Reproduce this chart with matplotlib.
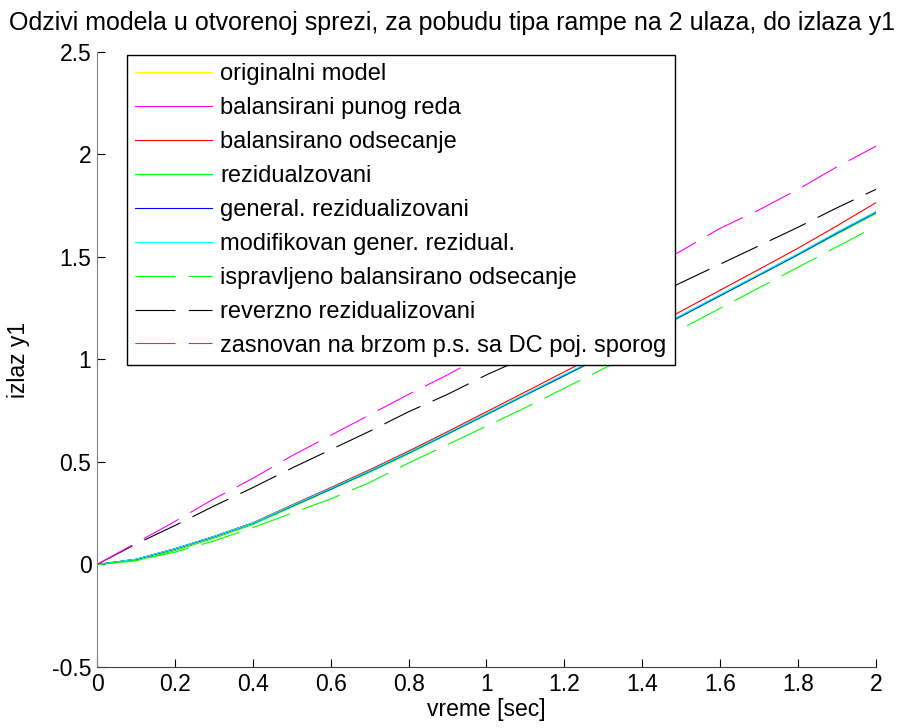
import numpy as np
import matplotlib
matplotlib.use("Agg")
import matplotlib.pyplot as plt

# time axis and responses
t = [0.0, 0.1, 0.2, 0.3, 0.4, 0.5, 0.6, 0.7, 0.8, 0.9, 1.0,
     1.1, 1.2, 1.3, 1.4, 1.5, 1.6, 1.7, 1.8, 1.9, 2.0]

y_original = [0.0, 0.025, 0.075, 0.135, 0.20, 0.285, 0.37, 0.455, 0.545, 0.64, 0.735,
              0.83, 0.925, 1.02, 1.115, 1.215, 1.315, 1.415, 1.515, 1.62, 1.72]
y_bal_full = [0.0, 0.025, 0.075, 0.135, 0.20, 0.285, 0.37, 0.455, 0.545, 0.64, 0.735,
              0.83, 0.925, 1.02, 1.115, 1.215, 1.315, 1.415, 1.515, 1.62, 1.72]
y_bal_trunc = [0.0, 0.025, 0.076, 0.137, 0.203, 0.29, 0.375, 0.462, 0.553, 0.648, 0.745,
               0.842, 0.94, 1.037, 1.135, 1.236, 1.338, 1.44, 1.543, 1.652, 1.765]
y_resid = [0.0, 0.018, 0.068, 0.128, 0.195, 0.28, 0.365, 0.45, 0.54, 0.635, 0.73,
           0.825, 0.92, 1.015, 1.11, 1.21, 1.31, 1.41, 1.51, 1.612, 1.712]
y_gen_resid = [0.0, 0.025, 0.077, 0.136, 0.202, 0.285, 0.368, 0.455, 0.545, 0.638, 0.733,
               0.828, 0.922, 1.018, 1.112, 1.212, 1.312, 1.412, 1.512, 1.617, 1.718]
y_mod_gen = [0.0, 0.026, 0.077, 0.137, 0.202, 0.287, 0.371, 0.457, 0.547, 0.641, 0.736,
             0.831, 0.926, 1.021, 1.116, 1.216, 1.316, 1.416, 1.516, 1.621, 1.721]
y_corr_bal = [0.0, 0.02, 0.06, 0.115, 0.18, 0.25, 0.32, 0.40, 0.495, 0.585, 0.675,
              0.765, 0.86, 0.955, 1.05, 1.15, 1.25, 1.35, 1.45, 1.55, 1.65]
y_rev_resid = [0.0, 0.10, 0.19, 0.285, 0.375, 0.47, 0.56, 0.65, 0.745, 0.83, 0.925,
               1.01, 1.10, 1.19, 1.285, 1.375, 1.465, 1.555, 1.645, 1.74, 1.83]
y_fast_dc = [0.0, 0.105, 0.21, 0.32, 0.42, 0.53, 0.63, 0.73, 0.83, 0.925, 1.03,
             1.13, 1.23, 1.33, 1.43, 1.53, 1.64, 1.73, 1.83, 1.94, 2.04]

labels = ["originalni model", "balansirani punog reda", "balansirano odsecanje",
          "rezidualzovani", "general. rezidualizovani", "modifikovan gener. rezidual.",
          "ispravljeno balansirano odsecanje", "reverzno rezidualizovani",
          "zasnovan na brzom p.s. sa DC poj. sporog"]

plt.rcParams["font.family"] = ["Liberation Sans", "DejaVu Sans"]

fig = plt.figure(figsize=(9, 7.28), dpi=100)
ax = fig.add_axes([0.1078, 0.0838, 0.8655, 0.8448])

lw = 0.8
dash = (36, 12)
ax.plot(t, y_original, color="#ffff00", lw=lw, label=labels[0])
ax.plot(t, y_bal_full, color="#ff00ff", lw=lw, label=labels[1])
ax.plot(t, y_bal_trunc, color="#ff0000", lw=lw, label=labels[2])
ax.plot(t, y_resid, color="#00ff00", lw=lw, label=labels[3])
ax.plot(t, y_gen_resid, color="#0000ff", lw=lw, label=labels[4])
ax.plot(t, y_mod_gen, color="#00ffff", lw=lw, label=labels[5])
ax.plot(t, y_corr_bal, color="#00ff00", lw=lw, dashes=dash, label=labels[6])
ax.plot(t, y_rev_resid, color="#000000", lw=lw, dashes=dash, label=labels[7])
ax.plot(t, y_fast_dc, color="#ff00ff", lw=lw, dashes=dash, label=labels[8])

ax.set_xlim(0, 2)
ax.set_ylim(-0.5, 2.5)
ax.set_xticks(np.arange(0, 2.01, 0.2))
ax.set_xticklabels(["0", "0.2", "0.4", "0.6", "0.8", "1", "1.2", "1.4", "1.6", "1.8", "2"])
ax.set_yticks([-0.5, 0, 0.5, 1, 1.5, 2, 2.5])
ax.set_yticklabels(["-0.5", "0", "0.5", "1", "1.5", "2", "2.5"])

for s in ["top", "right"]:
    ax.spines[s].set_visible(False)
ax.spines["left"].set_color("#808080")
ax.spines["bottom"].set_color("#404040")
ax.tick_params(direction="in", length=6, width=0.8, color="black", pad=4, labelsize=16.5)

ax.set_xlabel("vreme [sec]", fontsize=16.5)
ax.xaxis.set_label_coords(0.5, -0.05)
ax.set_ylabel("izlaz y1", fontsize=16.5, va="center")
ax.yaxis.set_label_coords(-0.101, 0.5)
fig.text(0.502, 0.969, "Odzivi modela u otvorenoj sprezi, za pobudu tipa rampe na 2 ulaza, do izlaza y1",
         fontsize=18, ha="center", va="center")

leg = ax.legend(loc="upper left", bbox_to_anchor=(0.0385, 0.995), borderaxespad=0,
                fontsize=17, handlelength=3.25, handletextpad=0.34, labelspacing=0.505,
                borderpad=0.35, fancybox=False, framealpha=1)
leg.get_frame().set_edgecolor("black")
leg.get_frame().set_linewidth(1.0)

fig.savefig("out.png", dpi=100)
